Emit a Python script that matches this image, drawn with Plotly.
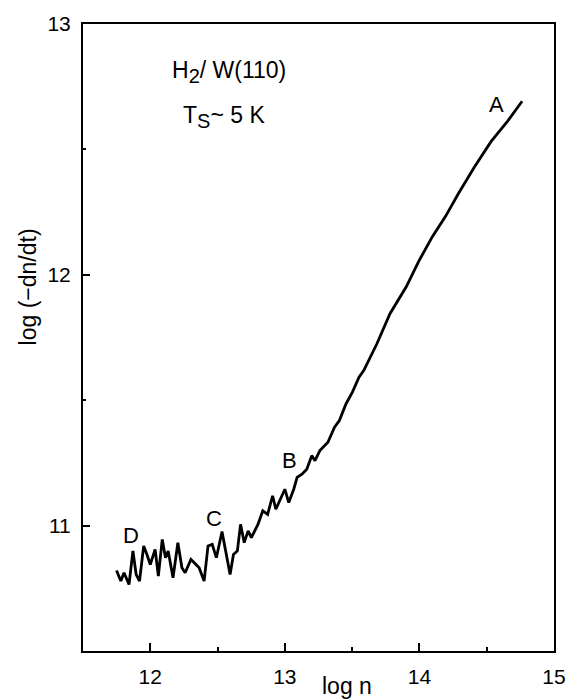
import plotly.graph_objects as go

# Traced curve: log n vs log(-dn/dt)
log_n = [11.749, 11.781, 11.805, 11.842, 11.871, 11.895, 11.920, 11.951, 11.975, 12.000,
         12.036, 12.060, 12.089, 12.113, 12.133, 12.169, 12.205, 12.235, 12.259, 12.302,
         12.327, 12.363, 12.400, 12.429, 12.460, 12.491, 12.533, 12.557, 12.593, 12.618,
         12.647, 12.671, 12.698, 12.727, 12.751, 12.800, 12.836, 12.872, 12.909, 12.933,
         12.969, 13.000, 13.029, 13.066, 13.091, 13.127, 13.163, 13.200, 13.224, 13.260,
         13.320, 13.369, 13.405, 13.454, 13.502, 13.551, 13.587, 13.684, 13.781, 13.902,
         14.000, 14.096, 14.193, 14.291, 14.411, 14.533, 14.654, 14.763]
log_rate = [10.821, 10.779, 10.812, 10.765, 10.899, 10.805, 10.779, 10.919, 10.885, 10.845,
            10.905, 10.799, 10.945, 10.872, 10.899, 10.792, 10.932, 10.832, 10.812, 10.865,
            10.852, 10.832, 10.779, 10.919, 10.925, 10.872, 10.976, 10.905, 10.805, 10.885,
            10.899, 11.005, 10.932, 10.979, 10.952, 11.005, 11.059, 11.045, 11.119, 11.065,
            11.112, 11.145, 11.092, 11.145, 11.192, 11.205, 11.225, 11.279, 11.259, 11.299,
            11.332, 11.392, 11.419, 11.485, 11.532, 11.592, 11.619, 11.725, 11.845, 11.952,
            12.059, 12.152, 12.232, 12.325, 12.432, 12.532, 12.612, 12.692]

x_ticks = [12, 13, 14, 15]
y_ticks = [11, 12, 13]

point_labels = ["A", "B", "C", "D"]
label_x = [14.569, 13.031, 12.472, 11.860]
label_y = [12.678, 11.260, 11.027, 10.961]

FONT = "Liberation Sans, Arial, sans-serif"

fig = go.Figure()
fig.add_trace(go.Scatter(x=log_n, y=log_rate, mode="lines",
                         line=dict(color="black", width=2.8),
                         showlegend=False, hoverinfo="skip"))

for t, lx, ly in zip(point_labels, label_x, label_y):
    fig.add_annotation(x=lx, y=ly, text=t, showarrow=False,
                       font=dict(family=FONT, size=22, color="black"),
                       xanchor="center", yanchor="middle")

fig.add_annotation(x=12.147, y=12.81,
                   text="H<sub><span style='font-size:20px'>2</span></sub>/ W(110)",
                   showarrow=False,
                   font=dict(family=FONT, size=23, color="black"),
                   xanchor="left", yanchor="middle")
fig.add_annotation(x=12.227, y=12.63,
                   text="T<sub><span style='font-size:20px'>S</span></sub>~ 5 K",
                   showarrow=False,
                   font=dict(family=FONT, size=23, color="black"),
                   xanchor="left", yanchor="middle")

# axis titles as annotations (x title sits between tick labels)
fig.add_annotation(xref="paper", yref="paper", x=(353 - 83) / 482, y=-(688 - 653) / 629,
                   text="log n", showarrow=False,
                   font=dict(family=FONT, size=23, color="black"),
                   xanchor="center", yanchor="middle")
fig.add_annotation(xref="paper", yref="paper", x=-(83 - 27) / 482, y=(653 - 288) / 629,
                   text="log (\u2212dn/dt)", showarrow=False, textangle=-90,
                   font=dict(family=FONT, size=23, color="black"),
                   xanchor="center", yanchor="middle")

fig.update_xaxes(range=[11.5, 15], tickvals=x_ticks, ticktext=[str(v) for v in x_ticks],
                 ticks="inside", ticklen=8, tickwidth=1.5, tickcolor="black",
                 showline=True, linecolor="black", linewidth=2, mirror=True,
                 showgrid=False, zeroline=False,
                 tickfont=dict(family=FONT, size=21, color="black"),
                 ticklabelstandoff=6,
                 minor=dict(tickvals=[12.5, 13.5, 14.5], ticks="inside", ticklen=4,
                            tickwidth=1.5, tickcolor="black", showgrid=False))
fig.update_yaxes(range=[10.5, 13], tickvals=y_ticks, ticktext=[str(v) for v in y_ticks],
                 ticks="inside", ticklen=7, tickwidth=1.5, tickcolor="black",
                 showline=True, linecolor="black", linewidth=2, mirror=True,
                 showgrid=False, zeroline=False,
                 tickfont=dict(family=FONT, size=21, color="black"),
                 ticklabelstandoff=6,
                 minor=dict(tickvals=[11.5, 12.5], ticks="inside", ticklen=3,
                            tickwidth=1.5, tickcolor="black", showgrid=False))

fig.update_layout(width=578, height=700, margin=dict(l=83, r=13, t=24, b=47),
                  paper_bgcolor="white", plot_bgcolor="white", showlegend=False)

fig.write_html("out.html")
